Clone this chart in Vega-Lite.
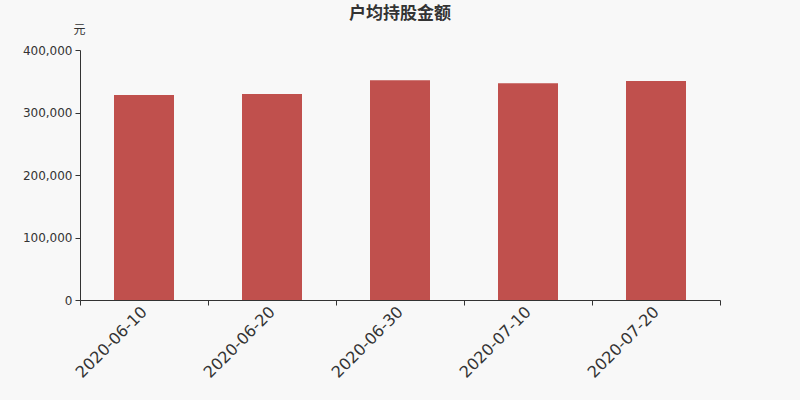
{
  "$schema": "https://vega.github.io/schema/vega-lite/v6.json",
  "width": 640,
  "height": 250,
  "autosize": {"type": "none"},
  "padding": {"left": 80, "top": 50, "right": 80, "bottom": 100},
  "background": "#f8f8f8",
  "title": {
    "text": "户均持股金额",
    "font": "Noto Sans CJK SC",
    "fontSize": 17,
    "fontWeight": "bold",
    "color": "#333333",
    "anchor": "middle",
    "frame": "group",
    "offset": 0
  },
  "config": {
    "view": {"stroke": null},
    "axis": {
      "domainColor": "#333333",
      "tickColor": "#333333",
      "labelColor": "#333333",
      "titleColor": "#333333",
      "grid": false,
      "labelFont": "DejaVu Sans",
      "tickSize": 5
    }
  },
  "data": {
    "values": [
      {"date": "2020-06-10", "value": 328000},
      {"date": "2020-06-20", "value": 329600},
      {"date": "2020-06-30", "value": 351500},
      {"date": "2020-07-10", "value": 346800},
      {"date": "2020-07-20", "value": 350500}
    ]
  },
  "mark": {"type": "bar", "width": 60, "color": "#c0504d"},
  "encoding": {
    "x": {
      "field": "date",
      "type": "temporal",
      "scale": {
        "type": "utc",
        "padding": 0,
        "nice": false,
        "domain": [
          {"year": 2020, "month": 6, "date": 5, "utc": true},
          {"year": 2020, "month": 7, "date": 25, "utc": true}
        ]
      },
      "axis": {
        "title": null,
        "values": [
          {"year": 2020, "month": 6, "date": 5, "utc": true},
          {"year": 2020, "month": 6, "date": 15, "utc": true},
          {"year": 2020, "month": 6, "date": 25, "utc": true},
          {"year": 2020, "month": 7, "date": 5, "utc": true},
          {"year": 2020, "month": 7, "date": 15, "utc": true},
          {"year": 2020, "month": 7, "date": 25, "utc": true}
        ],
        "labelExpr": "datum.value > 1595000000000 ? '' : utcFormat(datum.value + 432000000, '%Y-%m-%d')",
        "labelOffset": 64,
        "labelAngle": -45,
        "labelAlign": "right",
        "labelBaseline": "middle",
        "labelFontSize": 16,
        "labelPadding": 4,
        "labelOverlap": false,
        "labelFlush": false,
        "labelBound": false
      }
    },
    "y": {
      "field": "value",
      "type": "quantitative",
      "scale": {"domain": [0, 400000]},
      "axis": {
        "title": "元",
        "titleAngle": 0,
        "titleFont": "Noto Sans CJK SC",
        "titleFontSize": 12,
        "titleFontWeight": "normal",
        "titleAlign": "center",
        "titleBaseline": "middle",
        "titleX": -1,
        "titleY": -21,
        "values": [0, 100000, 200000, 300000, 400000],
        "format": ",d",
        "labelFontSize": 12,
        "labelPadding": 3
      }
    }
  }
}
